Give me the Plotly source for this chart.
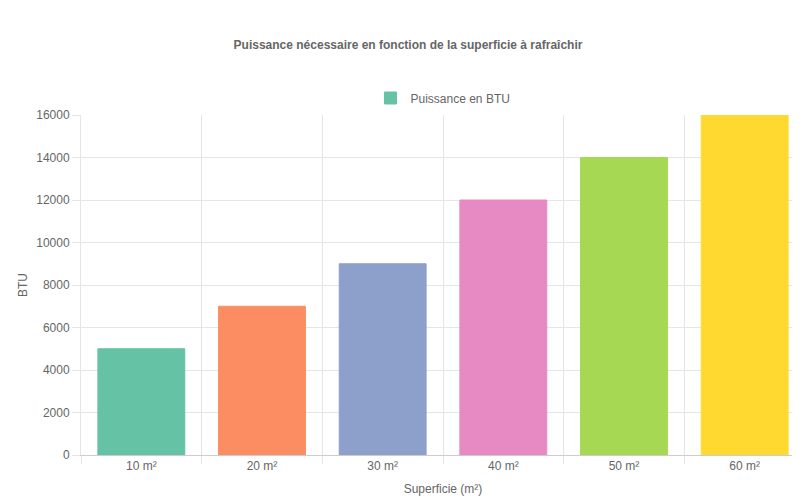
import plotly.graph_objects as go

categories = ["10 m²", "20 m²", "30 m²", "40 m²", "50 m²", "60 m²"]
values = [5000, 7000, 9000, 12000, 14000, 16000]
colors = ["#66c2a5", "#fc8d62", "#8da0cb", "#e78ac3", "#a6d854", "#ffd92f"]

pos = list(range(len(categories)))
fig = go.Figure(go.Bar(
    x=pos, y=values, name="Puissance en BTU",
    marker=dict(color=colors, line=dict(color=colors, width=1)),
    width=0.72, showlegend=True,
))
font = "Liberation Sans, Arial, sans-serif"
fig.update_layout(
    width=800, height=500,
    margin=dict(l=73, r=3, t=107, b=53, autoexpand=False),
    paper_bgcolor="white", plot_bgcolor="white",
    font=dict(family=font, size=12, color="#666"),
    title=dict(text="<b>Puissance nécessaire en fonction de la superficie à rafraîchir</b>",
               x=0.5, xanchor="center", y=0.926, yanchor="middle",
               font=dict(size=12, color="#666")),
    legend=dict(orientation="h", x=0.5, xanchor="center", y=1.05, yanchor="middle",
                font=dict(size=12, color="#666")),
    xaxis=dict(range=[-0.5, 5.5], tickmode="array", tickvals=pos, ticktext=categories,
               showgrid=False, ticks="", showline=True, linecolor="#ccc", automargin=False,
               title=dict(text="Superficie (m²)", standoff=12, font=dict(size=12)),
               minor=dict(tick0=-0.5, dtick=1, showgrid=True, gridcolor="#e5e5e5",
                          ticks="outside", ticklen=8, tickcolor="#e5e5e5")),
    yaxis=dict(range=[0, 16000], dtick=2000, tickformat="d", gridcolor="#e5e5e5",
               zeroline=False, automargin=False,
               showline=True, linecolor="#e5e5e5", ticks="outside", ticklen=8,
               tickcolor="#e5e5e5", title=dict(text="BTU", standoff=6, font=dict(size=12))),
)
fig.write_html("out.html")
